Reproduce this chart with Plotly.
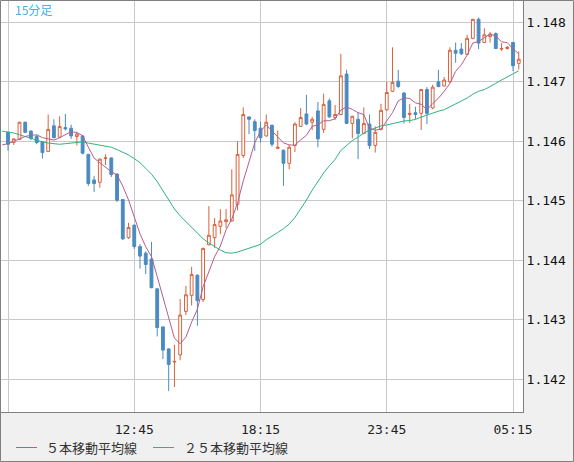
import plotly.graph_objects as go

# ---------------- data ----------------
bar_index = list(range(90))  # 15-minute bars, 0 = 07:15

open_ = [1.14615,1.14598,1.14603,1.14632,1.14617,1.14608,1.14599,1.14583,1.14626,1.14607,
         1.14623,1.14622,1.14608,1.14609,1.14578,1.14535,1.14531,1.14571,1.14572,1.14545,
         1.14502,1.14438,1.14459,1.14423,1.14412,1.14402,1.14352,1.14288,1.14251,1.14229,
         1.14241,1.14314,1.14341,1.14375,1.14334,1.14426,1.14438,1.14457,1.14465,1.14466,
         1.14494,1.14576,1.14641,1.14633,1.14622,1.14609,1.14627,1.14588,1.14585,1.14563,
         1.14593,1.14625,1.14646,1.14632,1.14651,1.14620,1.14668,1.14640,1.14645,1.14713,
         1.14630,1.14637,1.14613,1.14629,1.14593,1.14620,1.14653,1.14684,1.14701,1.14681,
         1.14645,1.14648,1.14647,1.14687,1.14656,1.14700,1.14693,1.14700,1.14753,1.14755,
         1.14746,1.14773,1.14805,1.14766,1.14776,1.14781,1.14755,1.14756,1.14766,1.14731]

close = [1.14595,1.14604,1.14632,1.14615,1.14605,1.14598,1.14581,1.14620,1.14606,1.14625,
         1.14621,1.14609,1.14612,1.14580,1.14529,1.14529,1.14570,1.14572,1.14544,1.14501,
         1.14436,1.14455,1.14423,1.14407,1.14393,1.14354,1.14287,1.14249,1.14225,1.14230,
         1.14308,1.14342,1.14376,1.14332,1.14420,1.14442,1.14460,1.14466,1.14468,1.14510,
         1.14578,1.14645,1.14637,1.14618,1.14606,1.14632,1.14595,1.14590,1.14563,1.14590,
         1.14629,1.14640,1.14629,1.14637,1.14604,1.14662,1.14641,1.14645,1.14710,1.14630,
         1.14642,1.14613,1.14630,1.14593,1.14615,1.14652,1.14682,1.14699,1.14692,1.14640,
         1.14647,1.14645,1.14687,1.14647,1.14691,1.14692,1.14703,1.14753,1.14748,1.14747,
         1.14773,1.14805,1.14765,1.14779,1.14780,1.14756,1.14756,1.14758,1.14727,1.14738]

high = [1.14616,1.14605,1.14633,1.14633,1.14619,1.14611,1.14600,1.14645,1.14637,1.14642,
        1.14646,1.14628,1.14616,1.14610,1.14579,1.14542,1.14571,1.14578,1.14573,1.14546,
        1.14503,1.14463,1.14460,1.14427,1.14415,1.14431,1.14353,1.14289,1.14252,1.14258,
        1.14335,1.14357,1.14389,1.14376,1.14421,1.14491,1.14471,1.14486,1.14486,1.14553,
        1.14600,1.14657,1.14641,1.14637,1.14633,1.14645,1.14628,1.14618,1.14586,1.14594,
        1.14632,1.14656,1.14678,1.14641,1.14666,1.14680,1.14672,1.14661,1.14747,1.14720,
        1.14643,1.14649,1.14657,1.14645,1.14625,1.14663,1.14700,1.14758,1.14720,1.14683,
        1.14663,1.14658,1.14688,1.14691,1.14695,1.14720,1.14708,1.14758,1.14766,1.14765,
        1.14779,1.14806,1.14808,1.14790,1.14784,1.14783,1.14765,1.14760,1.14767,1.14751]

low = [1.14584,1.14594,1.14602,1.14614,1.14602,1.14595,1.14571,1.14582,1.14605,1.14606,
       1.14618,1.14604,1.14593,1.14578,1.14525,1.14515,1.14522,1.14560,1.14540,1.14498,
       1.14434,1.14436,1.14419,1.14386,1.14377,1.14353,1.14272,1.14234,1.14180,1.14187,
       1.14232,1.14308,1.14324,1.14290,1.14330,1.14425,1.14421,1.14444,1.14454,1.14465,
       1.14484,1.14572,1.14612,1.14584,1.14598,1.14608,1.14591,1.14587,1.14525,1.14553,
       1.14582,1.14624,1.14627,1.14619,1.14590,1.14614,1.14640,1.14636,1.14644,1.14629,
       1.14605,1.14570,1.14612,1.14587,1.14581,1.14618,1.14651,1.14683,1.14690,1.14630,
       1.14631,1.14637,1.14619,1.14629,1.14654,1.14691,1.14692,1.14698,1.14732,1.14745,
       1.14745,1.14772,1.14755,1.14765,1.14766,1.14755,1.14752,1.14754,1.14718,1.14721]

# moving-average values before enough bars are on screen (bars -1 .. 3 and -1 .. 23)
ma5_head = [1.14594, 1.14596, 1.14600, 1.14604, 1.14608]
ma25_head = [1.14617, 1.14616, 1.14614, 1.14611, 1.14608, 1.14605, 1.14601, 1.14599,
             1.14597, 1.14596, 1.14595, 1.14596, 1.14597, 1.14598, 1.14599, 1.14597,
             1.14595, 1.14594, 1.14592, 1.14590, 1.14586, 1.14582, 1.14577, 1.14571,
             1.14564]

tick_pos = [0, 22, 44, 66, 88]
tick_text = ["", "12:45", "18:15", "23:45", "05:15"]
y_ticks = [1.142, 1.143, 1.144, 1.145, 1.146, 1.147, 1.148]

ma5_label = "５本移動平均線"
ma25_label = "２５本移動平均線"
title_text = "15分足"

# ---------------- derived moving averages ----------------
def moving_average(values, n, head):
    xs = list(range(-1, len(values)))
    out = list(head)
    for i in range(n - 1, len(values)):
        out.append(sum(values[i - n + 1:i + 1]) / n)
    return xs, out

ma5_x, ma5 = moving_average(close, 5, ma5_head)
ma25_x, ma25 = moving_average(close, 25, ma25_head)

# ---------------- styling ----------------
RED = "#d9623c"
BLUE = "#4a8bc2"
MA5_COLOR = "#b65d8e"
MA25_COLOR = "#2db57c"
GRID = "#c8c8c8"
FRAME = "#808080"

W, H = 574, 462
ML, MR, MT, MB = 1, 51, 1, 50
PW, PH = W - ML - MR, H - MT - MB

def px_x(px):
    return (px - ML) / PW

def px_y(py):
    return (H - MB - py) / PH

fig = go.Figure()
fig.add_trace(go.Candlestick(
    x=bar_index, open=open_, high=high, low=low, close=close,
    increasing=dict(line=dict(color=RED, width=1), fillcolor="white"),
    decreasing=dict(line=dict(color=BLUE, width=1), fillcolor=BLUE),
    whiskerwidth=0, hoverinfo="skip", showlegend=False,
))
fig.add_trace(go.Scatter(x=ma25_x, y=ma25, mode="lines",
                         line=dict(color=MA25_COLOR, width=1),
                         hoverinfo="skip", showlegend=False))
fig.add_trace(go.Scatter(x=ma5_x, y=ma5, mode="lines",
                         line=dict(color=MA5_COLOR, width=1),
                         hoverinfo="skip", showlegend=False))

mono = "DejaVu Sans Mono"
cjk = "Noto Sans CJK JP"

shapes = [
    # outer frame
    dict(type="rect", xref="paper", yref="paper",
         x0=px_x(0.5), x1=px_x(573.5), y0=px_y(461.5), y1=px_y(0.5),
         line=dict(color=FRAME, width=1), fillcolor="rgba(0,0,0,0)", layer="above"),
    # legend samples
    dict(type="line", xref="paper", yref="paper",
         x0=px_x(16), x1=px_x(37), y0=px_y(447.5), y1=px_y(447.5),
         line=dict(color=MA5_COLOR, width=1)),
    dict(type="line", xref="paper", yref="paper",
         x0=px_x(153), x1=px_x(174), y0=px_y(447.5), y1=px_y(447.5),
         line=dict(color=MA25_COLOR, width=1)),
]

annotations = [
    dict(text=ma5_label, xref="paper", yref="paper", x=px_x(44), y=px_y(447.5),
         xanchor="left", yanchor="middle", showarrow=False,
         font=dict(family=cjk, size=13, color="#333333")),
    dict(text=ma25_label, xref="paper", yref="paper", x=px_x(182), y=px_y(447.5),
         xanchor="left", yanchor="middle", showarrow=False,
         font=dict(family=cjk, size=13, color="#333333")),
    dict(text=title_text, xref="paper", yref="paper", x=px_x(13), y=px_y(9.5),
         xanchor="left", yanchor="middle", showarrow=False,
         font=dict(family=cjk, size=12, color="#45b0e6")),
]

fig.update_layout(
    width=W, height=H,
    margin=dict(l=ML, r=MR, t=MT, b=MB, pad=0),
    paper_bgcolor="#f0f0f0", plot_bgcolor="white",
    showlegend=False,
    shapes=shapes, annotations=annotations,
    xaxis=dict(range=[-1.22, 89.74], showgrid=True, gridcolor=GRID, gridwidth=1,
               zeroline=False, showline=True, linecolor=FRAME, linewidth=1,
               tickmode="array", tickvals=tick_pos, ticktext=tick_text, ticks="",
               tickfont=dict(family=mono, size=13, color="#222222"),
               ticklabelstandoff=5,
               rangeslider=dict(visible=False), fixedrange=True),
    yaxis=dict(range=[1.14145, 1.148358], side="right", showgrid=True,
               gridcolor=GRID, gridwidth=1, zeroline=False, showline=True,
               linecolor=FRAME, linewidth=1, tickmode="array", tickvals=y_ticks,
               ticktext=[f"{v:.3f}" for v in y_ticks], ticks="",
               tickfont=dict(family=mono, size=13, color="#111111"),
               fixedrange=True),
)

fig.write_html("out.html", config={"displayModeBar": False})
